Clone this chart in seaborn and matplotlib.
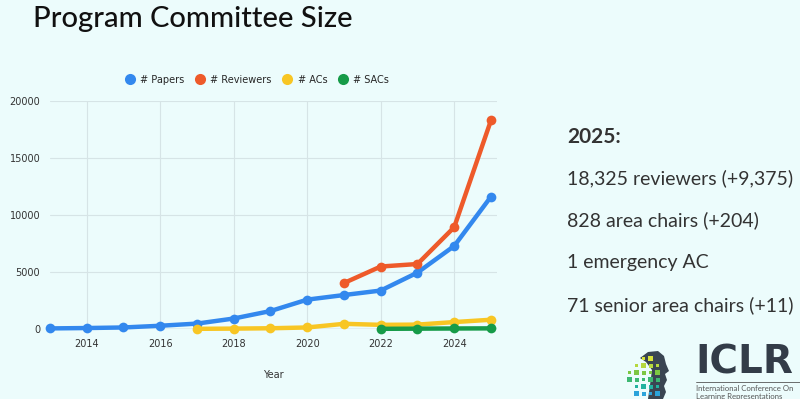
import numpy as np
import pandas as pd
import seaborn as sns
import matplotlib
matplotlib.use("Agg")
import matplotlib.pyplot as plt
from matplotlib.lines import Line2D
from matplotlib.patches import Rectangle, Polygon

years = [2013, 2014, 2015, 2016, 2017, 2018, 2019, 2020, 2021, 2022, 2023, 2024, 2025]
papers = [67, 100, 150, 300, 490, 935, 1591, 2594, 2997, 3391, 4966, 7304, 11630]
reviewers = [None] * 8 + [4050, 5500, 5720, 8950, 18325]
acs = [None] * 4 + [30, 50, 80, 150, 470, 380, 400, 624, 828]
sacs = [None] * 9 + [30, 45, 60, 71]

series_names = ["# Papers", "# Reviewers", "# ACs", "# SACs"]
series_colors = ["#3388EE", "#EE5A2A", "#F8C624", "#169B48"]
side_lines = ["18,325 reviewers (+9,375)", "828 area chairs (+204)",
              "1 emergency AC", "71 senior area chairs (+11)"]

rows = []
for name, vals in zip(series_names, [papers, reviewers, acs, sacs]):
    for y, v in zip(years, vals):
        if v is not None:
            rows.append({"Year": y, "Value": v, "Series": name})
df = pd.DataFrame(rows)

bg = "#ECFCFC"
sns.set_theme(style="white")
plt.rcParams["font.family"] = ["Lato", "DejaVu Sans"]

W, H = 800, 399
fig = plt.figure(figsize=(8, 3.99), dpi=100, facecolor=bg)
ax = fig.add_axes([0.0625, 0.175, 0.559, 0.571], facecolor=bg)

for name, color in zip(series_names, series_colors):
    sub = df[df["Series"] == name]
    sns.lineplot(data=sub, x="Year", y="Value", ax=ax, color=color,
                 linewidth=3.2, marker="o", markersize=7, markeredgewidth=0,
                 legend=False, zorder=3, clip_on=False)

ax.set_xlim(2013, 2025.17)
ax.set_ylim(0, 20000)
ax.set_xticks([2014, 2016, 2018, 2020, 2022, 2024])
ax.set_yticks([0, 5000, 10000, 15000, 20000])
ax.grid(True, color="#D6E4E6", linewidth=0.8)
ax.axhline(0, color="#333333", linewidth=0.8, zorder=2)
for s in ax.spines.values():
    s.set_visible(False)
ax.tick_params(axis="both", length=0, labelsize=7, labelcolor="#333333", pad=7)
ax.set_xlabel("Year", fontsize=7, color="#333333", labelpad=15, family="DejaVu Sans")
ax.set_ylabel("")
for lab in ax.get_xticklabels() + ax.get_yticklabels():
    lab.set_family("DejaVu Sans")

handles = [Line2D([], [], linestyle="none", marker="o", markersize=8,
                  markerfacecolor=c, markeredgewidth=0) for c in series_colors]
ax.legend(handles, series_names, ncol=4, loc="lower center",
          bbox_to_anchor=(0.462, 1.035), frameon=False,
          handletextpad=0.45, columnspacing=1.0, handlelength=1.2,
          prop={"family": "DejaVu Sans", "size": 7})

fig.text(0.041, 0.952, "Program Committee Size", fontsize=21, color="#111111",
         ha="left", va="center", fontweight="medium")

fig.text(0.709, 0.657, "2025:", fontsize=15, fontweight="bold", color="#333333",
         ha="left", va="center")
for i, t in enumerate(side_lines):
    fig.text(0.709, 0.553 - i * 0.106, t, fontsize=14, color="#333333",
             ha="left", va="center")

# ---- ICLR logo (decorative) ----
def P(x, y):
    return (x / W, 1 - y / H)

head_px = [(640, 358), (648, 352), (658, 351), (664, 356), (666, 364), (669, 371),
           (665, 374), (667, 380), (664, 386), (666, 392), (663, 399), (648, 399),
           (650, 385), (652, 370), (646, 362)]
fig.add_artist(Polygon([P(x, y) for x, y in head_px], closed=True,
                       facecolor="#3A4552", edgecolor="none",
                       transform=fig.transFigure))
row_colors = ["#D8E23A", "#B5D83E", "#7DC742", "#3DB872", "#22B2A0", "#2BA3DA"]
row_cols = [(2, 3), (1, 4), (0, 4), (0, 4), (1, 4), (1, 4)]
for j, (c0, c1) in enumerate(row_cols):
    for i in range(c0, c1 + 1):
        sz = 5 if (i + j) % 3 == 0 else (4 if (i + j) % 3 == 1 else 2.5)
        px = 627 + 7 * i + (5 - sz) / 2
        py = 356 + 7 * j + (5 - sz) / 2
        fig.add_artist(Rectangle(P(px, py + sz), sz / W, sz / H,
                                 facecolor=row_colors[j], edgecolor="none",
                                 transform=fig.transFigure))

fig.text(695 / W, 1 - 374 / H, "ICLR", fontsize=28, fontweight="bold",
         color="#333C48", ha="left", va="baseline", family="DejaVu Sans")
fig.add_artist(Line2D([696 / W, 1.0], [1 - 382 / H, 1 - 382 / H], color="#555555",
                      linewidth=0.6, transform=fig.transFigure))
fig.text(696 / W, 1 - 392.5 / H, "International Conference On\nLearning Representations",
         fontsize=5.6, color="#555555", ha="left", va="center", linespacing=1.05)

fig.savefig("out.png", dpi=100, facecolor=bg)
